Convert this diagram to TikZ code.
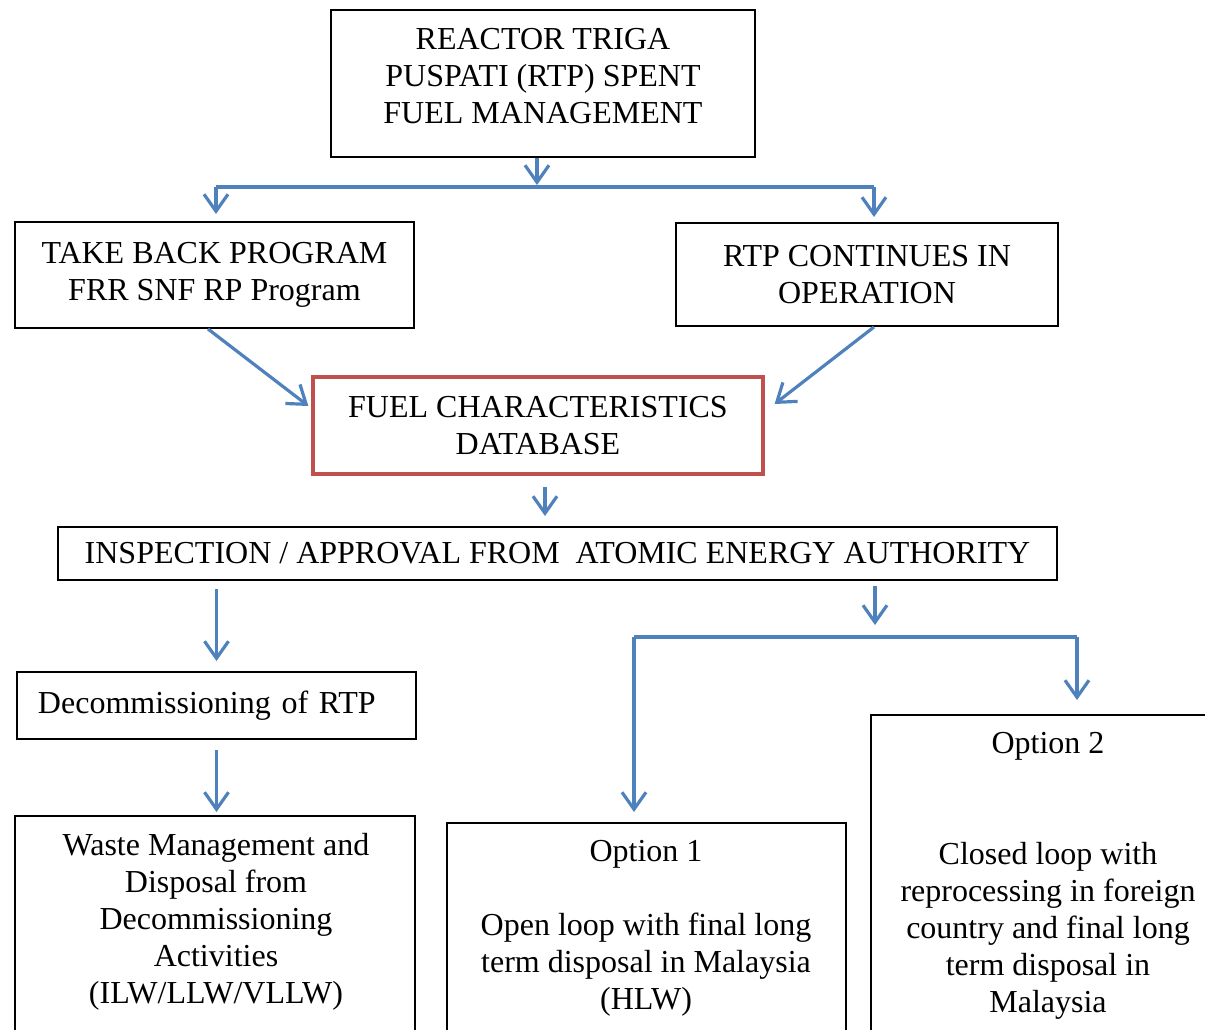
\documentclass[tikz,border=0pt]{standalone}
\usepackage{fontspec}
\setmainfont{Liberation Serif}
\usetikzlibrary{arrows.meta}
\definecolor{flowblue}{RGB}{79,129,189}
\definecolor{dbred}{RGB}{192,80,77}

\begin{document}
\begin{tikzpicture}[x=0.5pt,y=-0.5pt,
  box/.style={draw,line width=1pt,align=center,inner sep=0pt,
    font=\fontsize{16}{18.5}\selectfont},
  txt/.style={align=center,inner sep=0pt,font=\fontsize{16}{18.5}\selectfont},
  link/.style={draw=flowblue,line width=1.6pt},
  flow/.style={link,-{Straight Barb[length=8.5pt,width=12pt,line width=1.6pt]}}]

 \useasboundingbox (0,0) rectangle (1205,1029);
 \clip (0,0) rectangle (1205,1029);

 % top part
 \node[box,minimum width=212pt,minimum height=73.5pt] (fuel) at (543,83.5)
   {\raisebox{2pt}[\height][\depth]{\begin{tabular}{@{}c@{}}REACTOR TRIGA\\PUSPATI (RTP) SPENT\\FUEL MANAGEMENT\end{tabular}}};
 \node[box,minimum width=199.5pt,minimum height=53pt] (takeback) at (214.5,275)
   {TAKE BACK PROGRAM\\FRR SNF RP Program};
 \node[box,minimum width=191pt,minimum height=51.5pt] (operation) at (867,274.5)
   {RTP CONTINUES IN\\OPERATION};
 \node[box,draw=dbred,line width=1.6pt,minimum width=225pt,minimum height=48.5pt] (database) at (538,425.5)
   {FUEL CHARACTERISTICS\\DATABASE};
 \node[box,minimum width=499.5pt,minimum height=26.5pt] (inspection) at (557.5,553.5)
   {INSPECTION / APPROVAL FROM\ \ ATOMIC ENERGY AUTHORITY};

 % lower part
 \node[box,align=left,text width=178.5pt,inner xsep=10.5pt,minimum height=33.5pt] (decom) at (216.5,705.5)
   {Decommissioning of RTP};
 \node[box,anchor=north,minimum width=200pt,minimum height=150pt] (waste) at (215,815) {};
 \node[box,anchor=north,minimum width=199.5pt,minimum height=150pt] (option1) at (646.5,822) {};
 \node[box,anchor=north,minimum width=172pt,minimum height=200pt] (option2) at (1043,714) {};

 \node[txt,anchor=north] (wastetext) at (216,833)
   {Waste Management and\\Disposal from\\Decommissioning\\Activities\\(ILW/LLW/VLLW)};
 \node[txt,anchor=north] (option1text) at (646,840)
   {Option 1\\[18.5pt]Open loop with final long\\term disposal in Malaysia\\(HLW)};
 \node[txt,anchor=north] (option2text) at (1048,732)
   {Option 2\\[37pt]Closed loop with\\reprocessing in foreign\\country and final long\\term disposal in\\Malaysia};

 % connectors
 \coordinate (split1) at (537,187);
 \coordinate (left1) at (216,187);
 \coordinate (right1) at (874,187);
 \coordinate (down1) at (545,487);
 \coordinate (split2) at (875,637);
 \coordinate (left2) at (634,637);
 \coordinate (right2) at (1077,637);

 \draw[flow,shorten >=1pt] (split1 |- fuel.south) -- (split1);
 \draw[link] (left1) -- (right1);
 \draw[flow,shorten >=3.5pt] (left1) -- (left1 |- takeback.north);
 \draw[flow,shorten >=2.5pt] (right1) -- (right1 |- operation.north);

 \draw[flow] ([xshift=-3.25pt]takeback.south) -- ([shift={(-1.5pt,9.75pt)}]database.west);
 \draw[flow] ([xshift=3.5pt]operation.south) -- ([shift={(5pt,10.75pt)}]database.east);

 \draw[flow,shorten >=5pt] (down1) -- (down1 |- inspection.north);

 \draw[flow,shorten <=4pt,shorten >=5pt] (inspection.south -| decom.north) -- (decom.north);
 \draw[flow,shorten <=2.5pt,shorten >=6pt] (inspection.south -| split2) -- (split2);
 \draw[link] (left2) -- (right2);
 \draw[flow,shorten >=5pt] (left2) -- (left2 |- option1.north);
 \draw[flow,shorten >=7pt] (right2) -- (right2 |- option2.north);

 \draw[flow,shorten <=5pt,shorten >=1.5pt] (decom.south) -- (decom.south |- waste.north);
\end{tikzpicture}
\end{document}
